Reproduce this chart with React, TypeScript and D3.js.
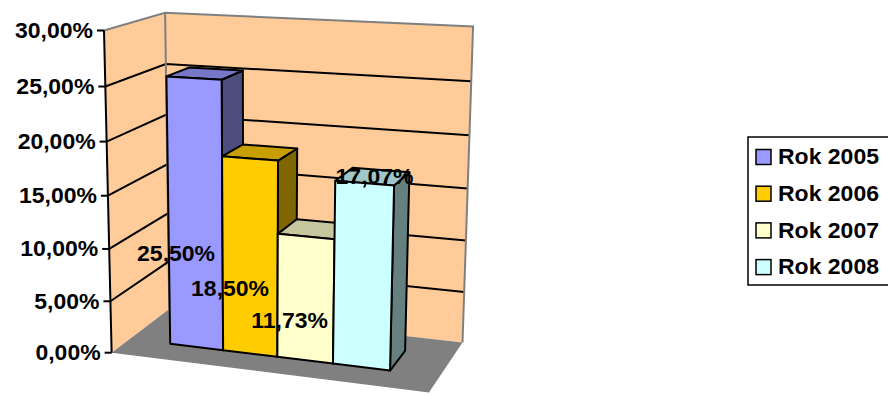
import React from "react";
import * as d3 from "d3";

// ---- data ----
const series = ["Rok 2005", "Rok 2006", "Rok 2007", "Rok 2008"];
const values = [25.5, 18.5, 11.73, 17.07];
const valueLabels = ["25,50%", "18,50%", "11,73%", "17,07%"];
const colors = ["#9999FF", "#FFCC00", "#FFFFCC", "#CCFFFF"];
const ticks = [0, 5, 10, 15, 20, 25, 30];
const tickLabels = ["0,00%", "5,00%", "10,00%", "15,00%", "20,00%", "25,00%", "30,00%"];

// ---- layout: camera reference points (world X,Y,Z in [0,1] -> screen u,v) ----
const cameraRefs: number[][] = [
  [0, 0, 0, 113, 352],
  [1, 0, 0, 430, 393],
  [0, 0, 1, 167, 310],
  [1, 0, 1, 463, 342],
  [0, 1, 0, 103, 31],
  [0, 1, 1, 167, 12],
  [1, 1, 1, 473, 26],
  [0, 1 / 6, 0, 111, 300],
  [0, 2 / 6, 0, 109, 249],
  [0, 3 / 6, 0, 108, 196],
  [0, 4 / 6, 0, 106, 142],
  [0, 5 / 6, 0, 104, 87],
  [0, 5 / 6, 1, 167, 63],
  [0, 4 / 6, 1, 167, 115],
  [0, 3 / 6, 1, 167, 165],
  [1, 5 / 6, 1, 471, 81],
  [1, 4 / 6, 1, 469, 136],
  [1, 3 / 6, 1, 467, 189],
  [1, 2 / 6, 1, 466, 240],
  [1, 1 / 6, 1, 464, 292],
];
const labelLevel = [0.35, 0.33, 0.31, 1.04];
const labelShift = [-0.065, -0.065, -0.05, 0.03];
const barRange: [number, number] = [0.138, 0.849];
const zFront = 0.3;
const zBack = 0.7;

function solveLinear(M: number[][], r: number[]): number[] {
  const n = r.length;
  const A = M.map((row, i) => [...row, r[i]]);
  for (let c = 0; c < n; c++) {
    let p = c;
    for (let i = c + 1; i < n; i++) if (Math.abs(A[i][c]) > Math.abs(A[p][c])) p = i;
    [A[c], A[p]] = [A[p], A[c]];
    for (let i = c + 1; i < n; i++) {
      const f = A[i][c] / A[c][c];
      for (let j = c; j <= n; j++) A[i][j] -= f * A[c][j];
    }
  }
  const x = new Array(n).fill(0);
  for (let i = n - 1; i >= 0; i--) {
    let s = A[i][n];
    for (let j = i + 1; j < n; j++) s -= A[i][j] * x[j];
    x[i] = s / A[i][i];
  }
  return x;
}

function fitCamera(refs: number[][]) {
  const rows: number[][] = [];
  const rhs: number[] = [];
  refs.forEach(([X, Y, Z, u0, v0]) => {
    const u = u0 / 100, v = v0 / 100;
    rows.push([X, Y, Z, 1, 0, 0, 0, 0, -u * X, -u * Y, -u * Z]);
    rhs.push(u);
    rows.push([0, 0, 0, 0, X, Y, Z, 1, -v * X, -v * Y, -v * Z]);
    rhs.push(v);
  });
  const n = 11;
  const AtA = Array.from({ length: n }, () => new Array(n).fill(0));
  const Atb = new Array(n).fill(0);
  rows.forEach((row, k) => {
    for (let i = 0; i < n; i++) {
      Atb[i] += row[i] * rhs[k];
      for (let j = 0; j < n; j++) AtA[i][j] += row[i] * row[j];
    }
  });
  return solveLinear(AtA, Atb);
}

const P = fitCamera(cameraRefs);
function proj(X: number, Y: number, Z: number): [number, number] {
  const w = P[8] * X + P[9] * Y + P[10] * Z + 1;
  return [
    (100 * (P[0] * X + P[1] * Y + P[2] * Z + P[3])) / w,
    (100 * (P[4] * X + P[5] * Y + P[6] * Z + P[7])) / w,
  ];
}
const pts = (arr: number[][]) => arr.map((p) => proj(p[0], p[1], p[2]).join(",")).join(" ");

function shade(c: string, k: number) {
  const r = d3.rgb(c);
  return d3.rgb(r.r * k, r.g * k, r.b * k).formatHex();
}

const font = "'Liberation Sans', Arial, sans-serif";

function Label(props: { x: number; y: number; anchor: "start" | "middle" | "end"; children: string }) {
  return (
    <text
      transform={`translate(${props.x},${props.y}) scale(1.07,1)`}
      textAnchor={props.anchor}
      dominantBaseline="central"
      fontFamily={font}
      fontWeight="bold"
      fontSize={21.5}
    >
      {props.children}
    </text>
  );
}

export default function App() {
  const yScale = d3.scaleLinear().domain([0, 30]).range([0, 1]);
  const xBand = d3.scaleBand<string>().domain(series).range(barRange).padding(0);
  const bw = xBand.bandwidth();

  return (
    <svg
      width={888}
      height={396}
      style={{ position: "absolute", left: 0, top: 0, background: "#fff" }}
    >
      {/* walls */}
      <polygon points={pts([[0, 0, 0], [0, 0, 1], [0, 1, 1], [0, 1, 0]])} fill="#FFCC99" />
      <polygon points={pts([[0, 0, 1], [1, 0, 1], [1, 1, 1], [0, 1, 1]])} fill="#FFCC99" />
      {/* gridlines */}
      {ticks.slice(1, -1).map((t) => (
        <polyline
          key={t}
          points={pts([[0, yScale(t), 0], [0, yScale(t), 1], [1, yScale(t), 1]])}
          fill="none"
          stroke="#000"
          strokeWidth={2}
        />
      ))}
      {/* wall edges */}
      <polyline
        points={pts([[0, 1, 0], [0, 1, 1], [1, 1, 1], [1, 0, 1]])}
        fill="none"
        stroke="#808080"
        strokeWidth={2}
      />
      <polyline points={pts([[0, 1, 1], [0, 0, 1]])} fill="none" stroke="#808080" strokeWidth={2} />
      {/* floor */}
      <polygon points={pts([[0, 0, 0], [1, 0, 0], [1, 0, 1], [0, 0, 1]])} fill="#808080" />
      {/* axis */}
      <polyline points={pts([[0, 0, 0], [0, 1, 0]])} stroke="#000" strokeWidth={2} fill="none" />
      {ticks.map((t, i) => {
        const [u, v] = proj(0, yScale(t), 0);
        return (
          <g key={t}>
            <line x1={u - 7} x2={u} y1={v} y2={v} stroke="#000" strokeWidth={2} />
            <Label x={u - 11} y={v} anchor="end">
              {tickLabels[i]}
            </Label>
          </g>
        );
      })}
      {/* bars */}
      {series.map((s, i) => {
        const x0 = xBand(s)!;
        const x1 = x0 + bw;
        const h = yScale(values[i]);
        const c = colors[i];
        const common = { stroke: "#000", strokeWidth: 2, strokeLinejoin: "round" as const };
        return (
          <g key={s}>
            <polygon
              points={pts([[x1, 0, zFront], [x1, 0, zBack], [x1, h, zBack], [x1, h, zFront]])}
              fill={shade(c, 0.5)}
              {...common}
            />
            <polygon
              points={pts([[x0, h, zFront], [x1, h, zFront], [x1, h, zBack], [x0, h, zBack]])}
              fill={shade(c, 0.78)}
              {...common}
            />
            <polygon
              points={pts([[x0, 0, zFront], [x1, 0, zFront], [x1, h, zFront], [x0, h, zFront]])}
              fill={c}
              {...common}
            />
          </g>
        );
      })}
      {/* data labels */}
      {series.map((s, i) => {
        const xc = xBand(s)! + bw / 2 + labelShift[i];
        const [u, v] = proj(xc, yScale(values[i] * labelLevel[i]), zFront);
        return (
          <Label key={s} x={u} y={v} anchor="middle">
            {valueLabels[i]}
          </Label>
        );
      })}
      {/* legend */}
      <rect x={748} y={137} width={160} height={148} fill="#fff" stroke="#000" strokeWidth={1.5} />
      {series.map((s, i) => {
        const cy = 157 + i * 36.7;
        return (
          <g key={s}>
            <rect x={756} y={cy - 7.5} width={15} height={15} fill={colors[i]} stroke="#000" strokeWidth={1.5} />
            <Label x={778} y={cy} anchor="start">
              {s}
            </Label>
          </g>
        );
      })}
    </svg>
  );
}
